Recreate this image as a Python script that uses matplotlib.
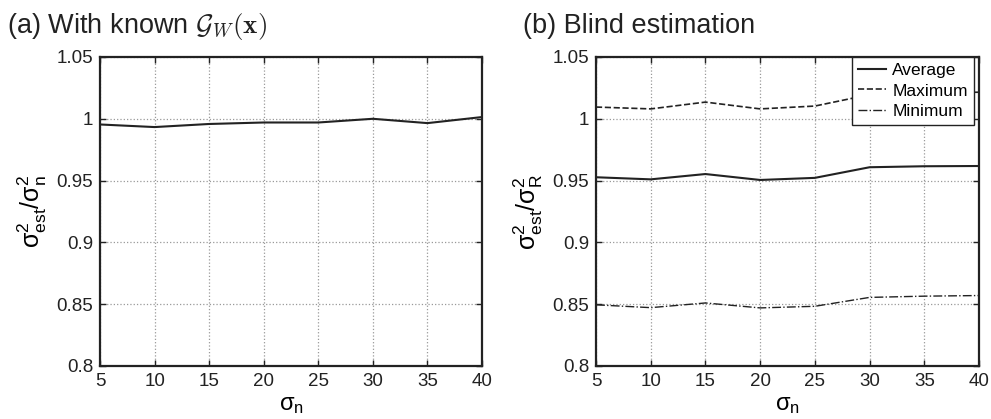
import numpy as np
import matplotlib
matplotlib.use('Agg')
import matplotlib.pyplot as plt
from matplotlib.ticker import FuncFormatter

plt.rcParams['font.family'] = ['Liberation Sans', 'DejaVu Sans']
plt.rcParams['mathtext.fontset'] = 'cm'

# noise levels
sigma_n = [5, 10, 15, 20, 25, 30, 35, 40]

# (a) known G_W(x)
ratio_known = [0.9954, 0.9933, 0.9958, 0.9970, 0.9970, 1.0000, 0.9965, 1.0014]

# (b) blind estimation
blind_avg = [0.9527, 0.9510, 0.9553, 0.9505, 0.9522, 0.9608, 0.9616, 0.9618]
blind_max = [1.0095, 1.0080, 1.0135, 1.0080, 1.0103, 1.0195, 1.0210, 1.0215]
blind_min = [0.8495, 0.8472, 0.8510, 0.8470, 0.8483, 0.8555, 0.8565, 0.8570]

yticks = [0.8, 0.85, 0.9, 0.95, 1.0, 1.05]
xticks = [5, 10, 15, 20, 25, 30, 35, 40]

fig = plt.figure(figsize=(9.91, 4.19), dpi=100)
ax1 = fig.add_axes([0.1009, 0.1265, 0.3855, 0.7375])
ax2 = fig.add_axes([0.6014, 0.1265, 0.3865, 0.7375])


def style(ax):
    ax.set_xlim(5, 40)
    ax.set_ylim(0.8, 1.05)
    ax.set_xticks(xticks)
    ax.set_yticks(yticks)
    ax.yaxis.set_major_formatter(FuncFormatter(lambda v, p: '%g' % round(v, 3)))
    ax.tick_params(direction='in', top=True, right=True, labelsize=13.5,
                   length=4, width=1, pad=5, colors='#222222')
    ax.grid(True, linestyle=':', color='#999999', linewidth=0.9)
    for s in ax.spines.values():
        s.set_linewidth(1.6)
        s.set_color('#222222')
    ax.set_xlabel(r'$\mathregular{\sigma_n}$', fontsize=17, labelpad=3)


ax1.plot(sigma_n, ratio_known, color='#222222', linewidth=1.5)
style(ax1)
ax1.set_ylabel(r'$\mathregular{\sigma^2_{est}/\sigma^2_n}$', fontsize=18, labelpad=5)

ax2.plot(sigma_n, blind_avg, color='#222222', linestyle='-', linewidth=1.5, label='Average')
ax2.plot(sigma_n, blind_max, color='#222222', linestyle='--', linewidth=1.2, label='Maximum')
ax2.plot(sigma_n, blind_min, color='#222222', linestyle='-.', linewidth=1.0, label='Minimum')
style(ax2)
ax2.set_ylabel(r'$\mathregular{\sigma^2_{est}/\sigma^2_R}$', fontsize=18, labelpad=5)

leg = ax2.legend(loc='upper right', bbox_to_anchor=(0.987, 1.0), fontsize=12.5,
                 fancybox=False, framealpha=1, edgecolor='#222222',
                 borderaxespad=0, handlelength=1.6, labelspacing=0.3,
                 borderpad=0.35, handletextpad=0.4)
leg.get_frame().set_linewidth(1.0)

fig.text(7 / 991, 1 - 33 / 419, r'(a) With known $\mathcal{G}_W(\mathbf{x})$',
         fontsize=19.5, ha='left', va='baseline', color='#222222')
fig.text(523 / 991, 1 - 33 / 419, '(b) Blind estimation',
         fontsize=19.5, ha='left', va='baseline', color='#222222')

fig.savefig('out.png', dpi=100)
